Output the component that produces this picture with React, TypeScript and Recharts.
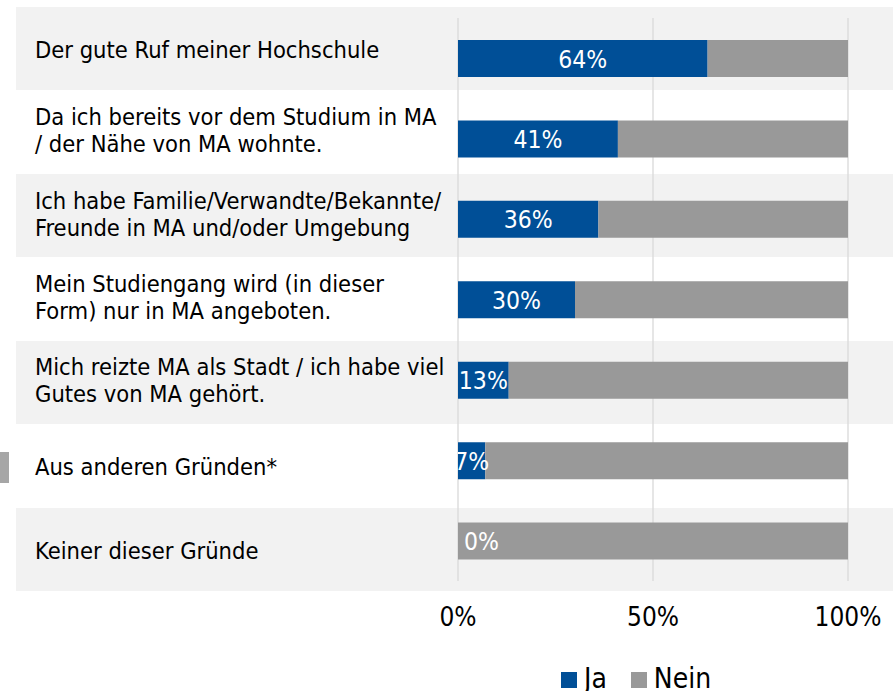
import React from "react";
import { BarChart, Bar, XAxis, YAxis, CartesianGrid, Legend, LabelList } from "recharts";

// Gründe für die Wahl des Studienorts (Ja / Nein)
const categories = [
  "Der gute Ruf meiner Hochschule",
  "Da ich bereits vor dem Studium in MA\n/ der Nähe von MA wohnte.",
  "Ich habe Familie/Verwandte/Bekannte/\nFreunde in MA und/oder Umgebung",
  "Mein Studiengang wird (in dieser\nForm) nur in MA angeboten.",
  "Mich reizte MA als Stadt / ich habe viel\nGutes von MA gehört.",
  "Aus anderen Gründen*",
  "Keiner dieser Gründe",
];
const jaValues = [64, 41, 36, 30, 13, 7, 0];
const neinValues = [36, 59, 64, 70, 87, 93, 100];
const xTicks = [0, 50, 100];

const W = 895;
const H = 691;
const FONT = "'DejaVu Sans Condensed', 'DejaVu Sans', sans-serif";
const BLUE = "#004f97";
const GREY = "#999999";
const BAND_FILL = "#f2f2f2";
const BAND_TOP = 7;
const BAND_H = 83.43;
const BAND_LEFT = 16;
const BAND_RIGHT = 893;
const PLOT_LEFT = 458;

const data = categories.map((name, i) => ({ name, ja: jaValues[i], nein: neinValues[i] }));

function CategoryTick(props: any) {
  const { payload } = props;
  const idx = typeof props.index === "number" ? props.index : categories.indexOf(payload.value);
  const lines = String(payload.value).split("\n");
  const cy = BAND_TOP + (idx + 0.5) * BAND_H + (lines.length > 1 ? -2 : 1);
  return (
    <text fill="#000" fontSize={23.5} fontFamily={FONT}>
      {lines.map((l, k) => (
        <tspan key={k} x={35} y={cy + 8.5 + (k - (lines.length - 1) / 2) * 27}>
          {l}
        </tspan>
      ))}
    </text>
  );
}

// label of the "Ja" share, drawn from the Nein segment so that 0 % still gets a label
function JaLabel(props: any) {
  const { x, y, width, height, value, index } = props;
  const ja = Number(value);
  const nein = neinValues[index];
  const jaW = nein > 0 ? (width * ja) / nein : 0;
  const zero = ja === 0;
  const id = `ja-clip-${index}`;
  return (
    <g>
      <defs>
        <clipPath id={id}>
          <rect x={PLOT_LEFT} y={y - 10} width={W} height={height + 20} />
        </clipPath>
      </defs>
      <text
        x={zero ? x + 6 : x - jaW / 2}
        y={y + height / 2 + 9}
        textAnchor={zero ? "start" : "middle"}
        fill="#fff"
        fontSize={24.5}
        fontFamily={FONT}
        clipPath={`url(#${id})`}
      >
        {ja}%
      </text>
    </g>
  );
}

function LegendContent(props: any) {
  const items = props.payload || [];
  return (
    <div style={{ display: "flex", paddingLeft: 561, height: 26, fontFamily: FONT, color: "#000" }}>
      {items.map((it: any, i: number) => (
        <div key={i} style={{ display: "flex", alignItems: "flex-start", marginRight: 24 }}>
          <span style={{ display: "inline-block", width: 16, height: 16, background: it.color, marginTop: 7, marginRight: 7 }} />
          <span style={{ fontSize: 28, lineHeight: "28px" }}>{it.value}</span>
        </div>
      ))}
    </div>
  );
}

export default function App() {
  return (
    <div style={{ position: "absolute", left: 0, top: 0, width: W, height: H, background: "#fff", overflow: "hidden" }}>
      {categories.map((_, i) =>
        i % 2 === 0 ? (
          <div
            key={i}
            style={{
              position: "absolute",
              left: BAND_LEFT,
              top: BAND_TOP + i * BAND_H,
              width: BAND_RIGHT - BAND_LEFT,
              height: BAND_H,
              background: BAND_FILL,
            }}
          />
        ) : null
      )}
      <div style={{ position: "absolute", left: 0, top: 452, width: 9, height: 31, background: "#a6a6a6" }} />
      <div style={{ position: "absolute", left: 0, top: 0 }}>
        <BarChart
          width={W}
          height={H}
          data={data}
          layout="vertical"
          margin={{ top: 18, right: 47, left: 0, bottom: 0 }}
          barSize={37}
        >
          <CartesianGrid horizontal={false} stroke="#d9d9d9" strokeWidth={1.3} />
          <XAxis
            type="number"
            domain={[0, 100]}
            ticks={xTicks}
            tickFormatter={(v: number) => `${v}%`}
            axisLine={false}
            tickLine={false}
            tickSize={0}
            tickMargin={27}
            height={84}
            interval={0}
            tick={{ fontSize: 26, fill: "#000", fontFamily: FONT }}
          />
          <YAxis
            type="category"
            dataKey="name"
            width={458}
            axisLine={false}
            tickLine={false}
            interval={0}
            tick={<CategoryTick />}
          />
          <Legend verticalAlign="bottom" height={26} content={<LegendContent />} />
          <Bar dataKey="ja" name="Ja" stackId="a" fill={BLUE} isAnimationActive={false} />
          <Bar dataKey="nein" name="Nein" stackId="a" fill={GREY} isAnimationActive={false}>
            <LabelList dataKey="ja" content={<JaLabel />} />
          </Bar>
        </BarChart>
      </div>
    </div>
  );
}
